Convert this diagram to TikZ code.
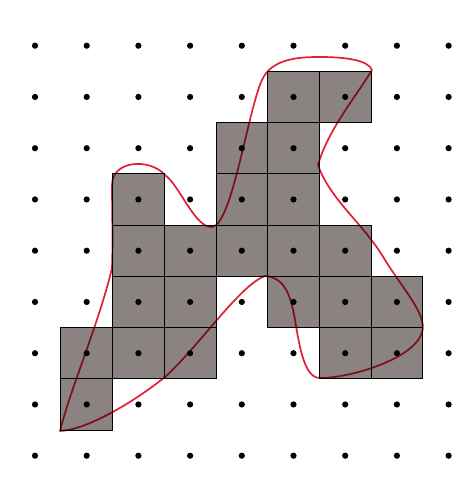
\documentclass[tikz,border=0pt]{standalone}
\definecolor{cellgrey}{RGB}{139,131,129}
\definecolor{curvered}{RGB}{226,32,52}
\tikzset{
  cell/.style={fill=cellgrey, draw=black, line width=0.9pt},
  gdot/.style={fill=black},
  outline/.style={draw=curvered, line width=1.7pt, line join=round}
}
\begin{document}
\begin{tikzpicture}[x=1pt,y=-1pt]
\useasboundingbox (0,0) rectangle (471,481);
\fill[white] (0,0) rectangle (471,481);
% shaded cells
\foreach \i/\j in {5/1,6/1,4/2,5/2,2/3,4/3,5/3,2/4,3/4,4/4,5/4,6/4,2/5,3/5,5/5,6/5,7/5,1/6,2/6,3/6,6/6,7/6,1/7}
  {\path[cell] ({35+51.7*(\i-0.5)},{45.7+51.25*(\j-0.5)}) rectangle ++(51.7,51.25);}
% dot grid
\foreach \i in {0,...,8}
  \foreach \j in {0,...,8}
    {\fill[gdot] ({35+51.7*\i},{45.7+51.25*\j}) circle[radius=3.1];}
% closed curve
\begin{scope}[blend mode=multiply]
\draw[outline] (60,431)
  .. controls (70,390) and (100,320) .. (112,268)
  .. controls (113,240) and (112,210) .. (112,185)
  .. controls (112,160) and (150,158) .. (165,175)
  .. controls (180,186) and (195,228) .. (212,227)
  .. controls (232,225) and (248,110) .. (262,80)
  .. controls (272,58) and (300,57) .. (320,57)
  .. controls (345,57) and (368,60) .. (372,70)
  .. controls (355,98) and (328,130) .. (318,165)
  .. controls (330,200) and (365,225) .. (385,260)
  .. controls (405,292) and (430,318) .. (421,335)
  .. controls (410,360) and (350,378) .. (320,378)
  .. controls (305,378) and (300,350) .. (295,320)
  .. controls (290,290) and (282,277) .. (265,276)
  .. controls (240,285) and (200,345) .. (165,377)
  .. controls (130,405) and (85,430) .. (60,431) -- cycle;
\end{scope}
\end{tikzpicture}
\end{document}
